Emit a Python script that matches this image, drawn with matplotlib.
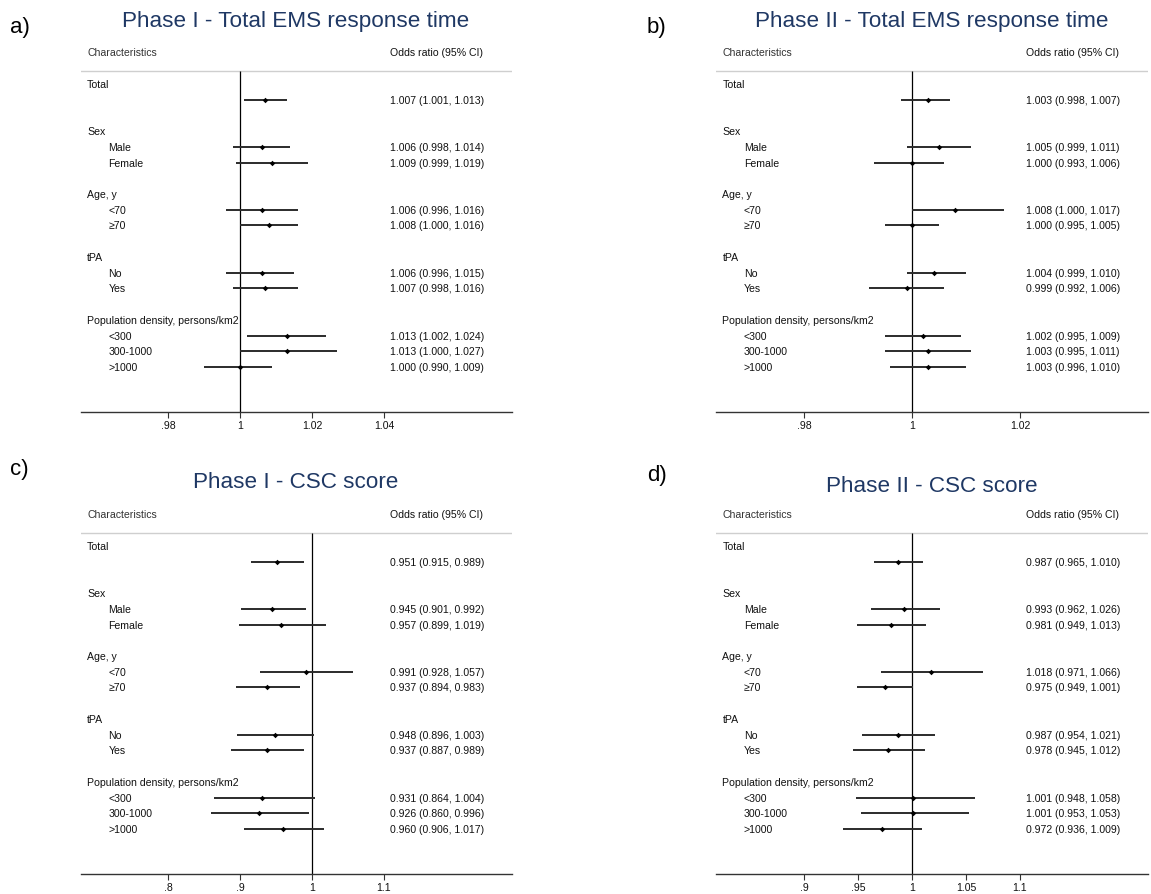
import numpy as np
import matplotlib
matplotlib.use("Agg")
import matplotlib.pyplot as plt
import matplotlib.transforms as mtransforms

plt.rcParams['font.family'] = ['Liberation Sans', 'DejaVu Sans']

W, H = 1151, 895

# -----------------------
# data
# -----------------------
groups = ["Total", "Sex", "Age, y", "tPA", "Population density, persons/km2"]
subgroups = [[""], ["Male", "Female"], ["<70", "\u226570"], ["No", "Yes"],
             ["<300", "300-1000", ">1000"]]

# Phase I - Total EMS response time
or_a = [1.007, 1.006, 1.009, 1.006, 1.008, 1.006, 1.007, 1.013, 1.013, 1.000]
lo_a = [1.001, 0.998, 0.999, 0.996, 1.000, 0.996, 0.998, 1.002, 1.000, 0.990]
hi_a = [1.013, 1.014, 1.019, 1.016, 1.016, 1.015, 1.016, 1.024, 1.027, 1.009]

# Phase II - Total EMS response time
or_b = [1.003, 1.005, 1.000, 1.008, 1.000, 1.004, 0.999, 1.002, 1.003, 1.003]
lo_b = [0.998, 0.999, 0.993, 1.000, 0.995, 0.999, 0.992, 0.995, 0.995, 0.996]
hi_b = [1.007, 1.011, 1.006, 1.017, 1.005, 1.010, 1.006, 1.009, 1.011, 1.010]

# Phase I - CSC score
or_c = [0.951, 0.945, 0.957, 0.991, 0.937, 0.948, 0.937, 0.931, 0.926, 0.960]
lo_c = [0.915, 0.901, 0.899, 0.928, 0.894, 0.896, 0.887, 0.864, 0.860, 0.906]
hi_c = [0.989, 0.992, 1.019, 1.057, 0.983, 1.003, 0.989, 1.004, 0.996, 1.017]

# Phase II - CSC score
or_d = [0.987, 0.993, 0.981, 1.018, 0.975, 0.987, 0.978, 1.001, 1.001, 0.972]
lo_d = [0.965, 0.962, 0.949, 0.971, 0.949, 0.954, 0.945, 0.948, 0.953, 0.936]
hi_d = [1.010, 1.026, 1.013, 1.066, 1.001, 1.021, 1.012, 1.058, 1.053, 1.009]

ticks_a = [0.98, 1.0, 1.02, 1.04]
ticklab_a = [".98", "1", "1.02", "1.04"]
ticks_b = [0.98, 1.0, 1.02]
ticklab_b = [".98", "1", "1.02"]
ticks_c = [0.8, 0.9, 1.0, 1.1]
ticklab_c = [".8", ".9", "1", "1.1"]
ticks_d = [0.9, 0.95, 1.0, 1.05, 1.1]
ticklab_d = [".9", ".95", "1", "1.05", "1.1"]

titles = ["Phase I - Total EMS response time", "Phase II - Total EMS response time",
          "Phase I - CSC score", "Phase II - CSC score"]
letters = ["a)", "b)", "c)", "d)"]

# -----------------------
# layout (pixels)
# -----------------------
ROW = 15.72
row0_px = 85          # y of the "Total" heading in top panels
bottom_px = 413       # x-axis line in top panels
top_px = 45
dy = 462              # shift of the lower panels

panels = [
    dict(d=(or_a, lo_a, hi_a), ticks=ticks_a, tl=ticklab_a, xl=(0.95575, 1.07556),
         box=(80.7, 512.0), oy=0, title_xy=(296, 22), letter_xy=(10, 28)),
    dict(d=(or_b, lo_b, hi_b), ticks=ticks_b, tl=ticklab_b, xl=(0.96370, 1.04370),
         box=(716.0, 1148.0), oy=0, title_xy=(932, 22), letter_xy=(647, 28)),
    dict(d=(or_c, lo_c, hi_c), ticks=ticks_c, tl=ticklab_c, xl=(0.67875, 1.27778),
         box=(80.7, 512.0), oy=dy, title_xy=(296, 483), letter_xy=(10, 470)),
    dict(d=(or_d, lo_d, hi_d), ticks=ticks_d, tl=ticklab_d, xl=(0.81852, 1.21852),
         box=(716.0, 1148.0), oy=dy, title_xy=(932, 487), letter_xy=(647, 476)),
]

fig = plt.figure(figsize=(W / 100, H / 100), dpi=100)

def to_row(px):
    return (px - row0_px) / ROW

y_bot = to_row(bottom_px)
y_top = to_row(top_px)
y_hdr = to_row(72)
y_char = to_row(53)

FS = 7.6
txtcol = "#111111"

for i, p in enumerate(panels):
    l, r = p["box"]
    ax = fig.add_axes([l / W, 1 - (bottom_px + p["oy"]) / H, (r - l) / W,
                       (bottom_px - top_px) / H])
    ax.set_xlim(*p["xl"])
    ax.set_ylim(y_bot, y_top)
    for s in ["top", "left", "right"]:
        ax.spines[s].set_visible(False)
    ax.spines["bottom"].set_color("#333333")
    ax.spines["bottom"].set_linewidth(1.0)
    ax.set_yticks([])
    ax.set_xticks(p["ticks"])
    ax.set_xticklabels(p["tl"])
    ax.tick_params(axis="x", length=4, width=0.8, colors="#333333",
                   labelsize=FS, pad=2, labelcolor=txtcol)
    ax.patch.set_alpha(0)

    ax.axhline(y_hdr, color="#cfcfcf", lw=1.0)
    ax.vlines(1.0, y_hdr, y_bot, color="black", lw=0.9)

    trans = mtransforms.blended_transform_factory(ax.transAxes, ax.transData)
    ax.text(0.015, y_char, "Characteristics", transform=trans, va="center",
            fontsize=FS, color="#333333")
    ax.text(0.717, y_char, "Odds ratio (95% CI)", transform=trans, va="center",
            fontsize=FS, color=txtcol)

    ors, los, his = p["d"]
    row = 0
    k = 0
    for g, subs in zip(groups, subgroups):
        ax.text(0.015, row, g, transform=trans, va="center", fontsize=FS, color=txtcol)
        row += 1
        for s in subs:
            if s:
                ax.text(0.064, row, s, transform=trans, va="center", fontsize=FS,
                        color=txtcol)
            ax.hlines(row, los[k], his[k], color="#2b2b2b", lw=1.4)
            ax.plot(ors[k], row, "D", ms=2.8, color="black", mew=0)
            ax.text(0.717, row, f"{ors[k]:.3f} ({los[k]:.3f}, {his[k]:.3f})",
                    transform=trans, va="center", fontsize=FS, color=txtcol)
            k += 1
            row += 1
        row += 1

    tx, ty = p["title_xy"]
    fig.text(tx / W, 1 - ty / H, titles[i], ha="center", va="center",
             fontsize=16.2, color="#1f3864")
    lx, ly = p["letter_xy"]
    fig.text(lx / W, 1 - ly / H, letters[i], ha="left", va="center",
             fontsize=16, color="black")

fig.savefig("out.png", dpi=100)
